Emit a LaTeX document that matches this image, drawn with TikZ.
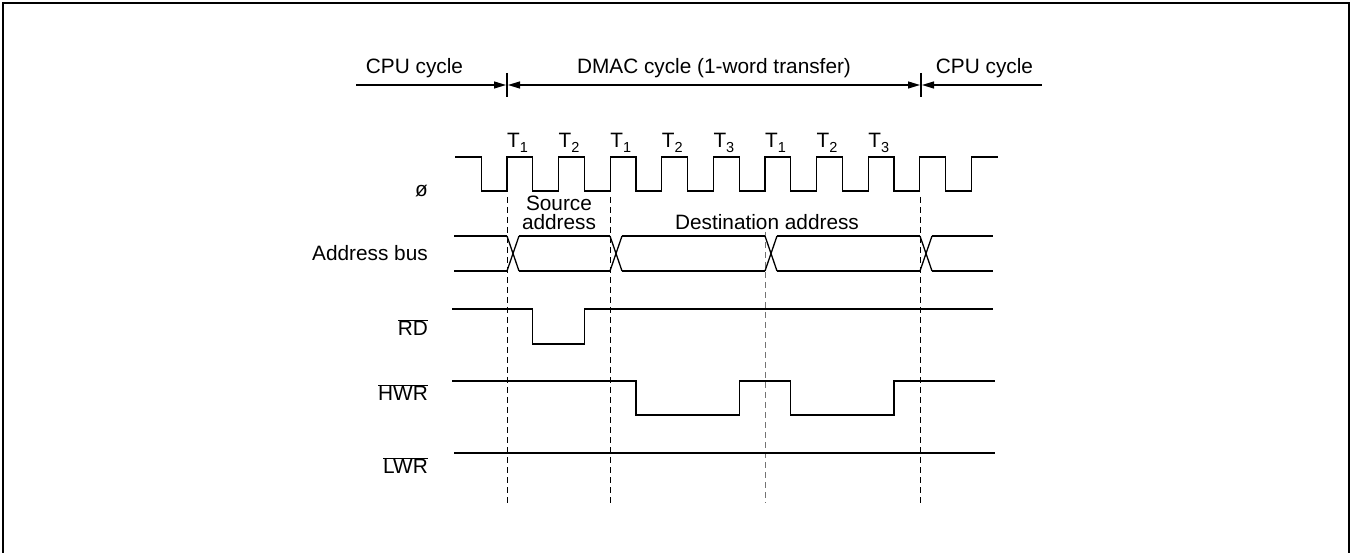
\documentclass[tikz,border=0pt]{standalone}
\usepackage{fontspec}
\setmainfont{Liberation Sans}
\usetikzlibrary{arrows.meta}
\newcommand\tsub[1]{\raisebox{-4.5pt}{\fontsize{14.5}{15}\selectfont #1}}
\newcommand\ovbar[1]{$\overline{\hbox{#1}}$}
\begin{document}
\begin{tikzpicture}[x=1pt,y=-1pt,
  lbl/.style={font=\fontsize{20.8}{25}\selectfont, inner sep=0pt, anchor=base},
  lblr/.style={lbl, anchor=base east},
  wave/.style={line width=1.3pt, line join=miter},
  guide/.style={line width=1pt, dash pattern=on 6pt off 4pt},
  guidegray/.style={guide, draw=black!55, line width=1.3pt},
  span/.style={line width=1.2pt},
  tri/.tip={Triangle[length=12pt,width=7pt]}]
\useasboundingbox (0,0) rectangle (1350,553);
% frame
\draw[line width=2pt] (2.5,570) -- (2.5,3) -- (1349,3) -- (1349,570);

% cycle span markers
\coordinate (a0) at (356,85);
\coordinate (b1l) at (506,85);
\coordinate (b1r) at (508,85);
\coordinate (b2l) at (920,85);
\coordinate (b2r) at (922,85);
\coordinate (a3) at (1042,85);
\coordinate (k1t) at (507,73); \coordinate (k1b) at (507,97);
\coordinate (k2t) at (921,73); \coordinate (k2b) at (921,97);
\draw[span,-tri] (a0) -- (b1l);
\draw[span,tri-tri] (b1r) -- (b2l);
\draw[span,tri-] (b2r) -- (a3);
\draw[span] (k1t) -- (k1b);
\draw[span] (k2t) -- (k2b);
\node[lbl] (cpu1) at (414.5,73.5) {CPU cycle};
\node[lbl] (dmac) at (714,73.5) {DMAC cycle (1-word transfer)};
\node[lbl] (cpu2) at (984.5,73.5) {CPU cycle};

% state labels
\foreach \k/\t [count=\i] in {0/1,1/2,2/1,3/2,4/3,5/1,6/2,7/3}
  \node[lbl] (t\i) at ({517.5+51.6*\k},147.7) {T\tsub{\t}};

% signal names
\node[lblr] (phi) at (428,197) {ø};
\node[lblr] (ab) at (428,260.5) {Address bus};
\node[lblr] (rd) at (428,335.5) {\ovbar{RD}};
\node[lblr] (hwr) at (428,400.5) {\ovbar{HWR}};
\node[lblr] (lwr) at (428,473.5) {\ovbar{LWR}};

% clock
\draw[wave] (455,157) foreach \k in {0,...,9}{
  -- ({481.2+51.6*\k},157) -- ({481.2+51.6*\k},191)
  -- ({507+51.6*\k},191) -- ({507+51.6*\k},157)} -- (998,157);

% guides
\draw[guide] (507,197) -- (507,503);
\draw[guide] (610.2,197) -- (610.2,503);
\draw[guidegray] (765.5,232) -- (765.5,503);
\draw[guide] (920,197) -- (920,503);

% address bus
\foreach \a/\b in {454/507,519/610,622/765,777/920,932/993}{
  \draw[wave] (\a,236) -- (\b,236);
  \draw[wave] (\a,271) -- (\b,271);
}
\foreach \x in {507,610,765,920}{
  \draw[wave] (\x,236) -- ({\x+12},271);
  \draw[wave] (\x,271) -- ({\x+12},236);
}
\node[lbl] (src1) at (559,211) {Source};
\node[lbl] (src2) at (559,229.5) {address};
\node[lbl] (dst) at (767,229.5) {Destination address};

% RD
\draw[wave] (452,309) -- (532.8,309) -- (532.8,344) -- (584.4,344) -- (584.4,309) -- (993,309);
% HWR
\draw[wave] (452,381) -- (636,381) -- (636,415) -- (739.2,415) -- (739.2,381)
  -- (790.8,381) -- (790.8,415) -- (894,415) -- (894,381) -- (995,381);
% LWR
\draw[wave] (454,453) -- (995,453);
\end{tikzpicture}
\end{document}
